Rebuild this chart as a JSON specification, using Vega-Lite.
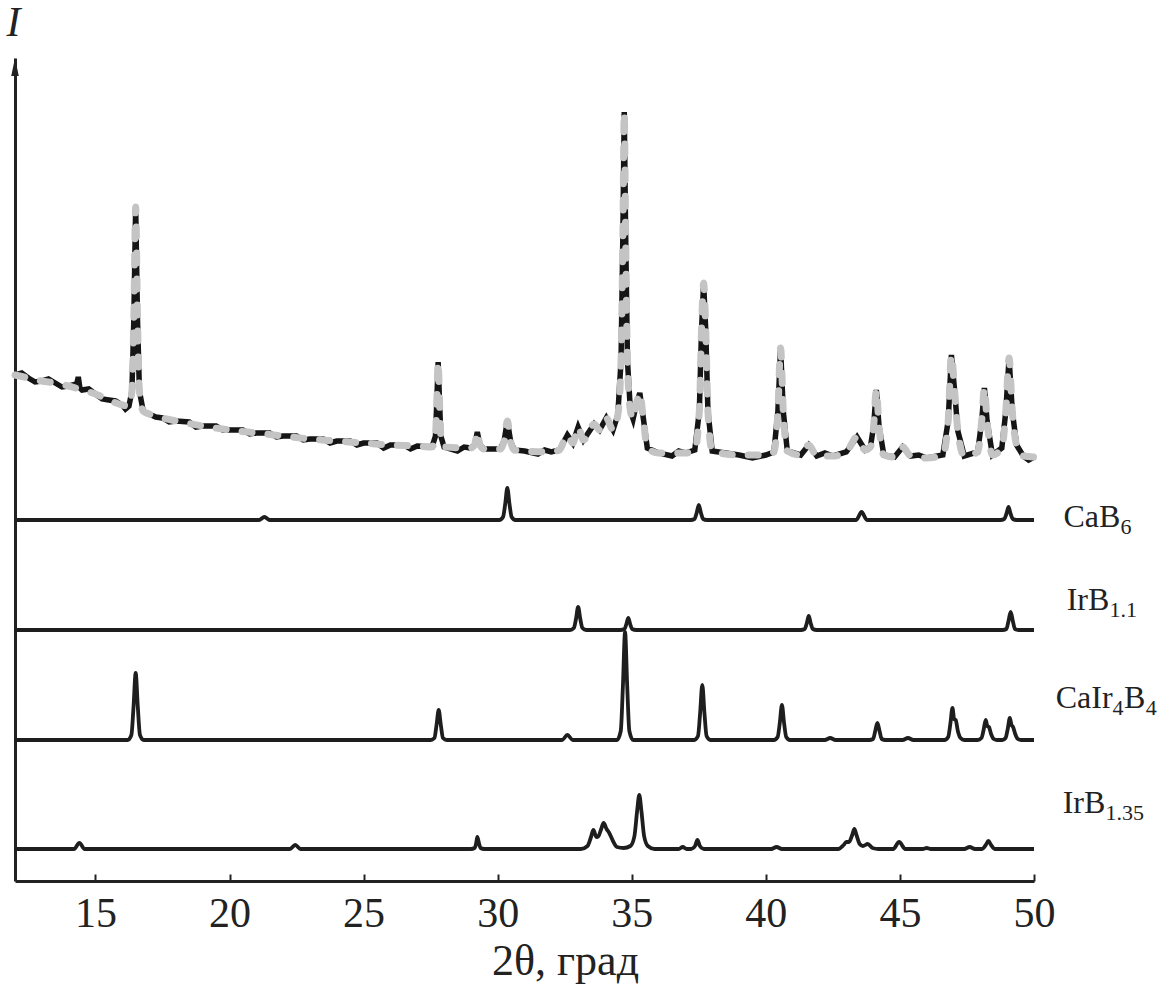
{
"$schema": "https://vega.github.io/schema/vega-lite/v6.json",
"width": 1019, "height": 823,
"autosize": {"type": "none"},
"padding": {"left": 15, "top": 58, "right": 133, "bottom": 103},
"background": "white",
"config": {"view": {"stroke": null}, "font": "Liberation Serif"},
"datasets": {
"refs": [
{"s":"CaB6","x":12,"y":361},{"s":"CaB6","x":21.1,"y":361},{"s":"CaB6","x":21.3,"y":364},{"s":"CaB6","x":21.5,"y":361},{"s":"CaB6","x":30.06,"y":361},{"s":"CaB6","x":30.2,"y":364},{"s":"CaB6","x":30.28,"y":377},{"s":"CaB6","x":30.36,"y":393},{"s":"CaB6","x":30.44,"y":377},{"s":"CaB6","x":30.52,"y":364},{"s":"CaB6","x":30.66,"y":361},{"s":"CaB6","x":37.2,"y":361},{"s":"CaB6","x":37.34,"y":362},{"s":"CaB6","x":37.42,"y":368},{"s":"CaB6","x":37.5,"y":376},{"s":"CaB6","x":37.58,"y":368},{"s":"CaB6","x":37.66,"y":362},{"s":"CaB6","x":37.8,"y":361},{"s":"CaB6","x":43.37,"y":361},{"s":"CaB6","x":43.57,"y":369},{"s":"CaB6","x":43.77,"y":361},{"s":"CaB6","x":48.75,"y":361},{"s":"CaB6","x":48.89,"y":362},{"s":"CaB6","x":48.97,"y":367},{"s":"CaB6","x":49.05,"y":374},{"s":"CaB6","x":49.13,"y":367},{"s":"CaB6","x":49.21,"y":362},{"s":"CaB6","x":49.35,"y":361},{"s":"CaB6","x":50,"y":361},
{"s":"IrB11","x":12,"y":251},{"s":"IrB11","x":32.7,"y":251},{"s":"IrB11","x":32.84,"y":253},{"s":"IrB11","x":32.92,"y":262},{"s":"IrB11","x":33.0,"y":274},{"s":"IrB11","x":33.08,"y":262},{"s":"IrB11","x":33.16,"y":253},{"s":"IrB11","x":33.3,"y":251},{"s":"IrB11","x":34.57,"y":251},{"s":"IrB11","x":34.73,"y":252},{"s":"IrB11","x":34.8,"y":257},{"s":"IrB11","x":34.87,"y":263},{"s":"IrB11","x":34.94,"y":257},{"s":"IrB11","x":35.01,"y":252},{"s":"IrB11","x":35.17,"y":251},{"s":"IrB11","x":41.3,"y":251},{"s":"IrB11","x":41.45,"y":252},{"s":"IrB11","x":41.53,"y":258},{"s":"IrB11","x":41.6,"y":265},{"s":"IrB11","x":41.67,"y":258},{"s":"IrB11","x":41.75,"y":252},{"s":"IrB11","x":41.9,"y":251},{"s":"IrB11","x":48.83,"y":251},{"s":"IrB11","x":48.97,"y":252},{"s":"IrB11","x":49.05,"y":260},{"s":"IrB11","x":49.13,"y":269},{"s":"IrB11","x":49.21,"y":260},{"s":"IrB11","x":49.29,"y":252},{"s":"IrB11","x":49.43,"y":251},{"s":"IrB11","x":50,"y":251},
{"s":"CaIr4B4","x":12,"y":141},{"s":"CaIr4B4","x":16.2,"y":141},{"s":"CaIr4B4","x":16.34,"y":146},{"s":"CaIr4B4","x":16.42,"y":174},{"s":"CaIr4B4","x":16.5,"y":208},{"s":"CaIr4B4","x":16.58,"y":174},{"s":"CaIr4B4","x":16.66,"y":146},{"s":"CaIr4B4","x":16.8,"y":141},{"s":"CaIr4B4","x":27.5,"y":141},{"s":"CaIr4B4","x":27.64,"y":143},{"s":"CaIr4B4","x":27.72,"y":156},{"s":"CaIr4B4","x":27.8,"y":171},{"s":"CaIr4B4","x":27.88,"y":156},{"s":"CaIr4B4","x":27.96,"y":143},{"s":"CaIr4B4","x":28.1,"y":141},{"s":"CaIr4B4","x":32.4,"y":141},{"s":"CaIr4B4","x":32.6,"y":146},{"s":"CaIr4B4","x":32.8,"y":141},{"s":"CaIr4B4","x":34.45,"y":141},{"s":"CaIr4B4","x":34.59,"y":150},{"s":"CaIr4B4","x":34.67,"y":195},{"s":"CaIr4B4","x":34.75,"y":249},{"s":"CaIr4B4","x":34.83,"y":195},{"s":"CaIr4B4","x":34.91,"y":150},{"s":"CaIr4B4","x":35.05,"y":141},{"s":"CaIr4B4","x":37.33,"y":141},{"s":"CaIr4B4","x":37.47,"y":145},{"s":"CaIr4B4","x":37.55,"y":168},{"s":"CaIr4B4","x":37.63,"y":196},{"s":"CaIr4B4","x":37.71,"y":168},{"s":"CaIr4B4","x":37.79,"y":145},{"s":"CaIr4B4","x":37.93,"y":141},{"s":"CaIr4B4","x":40.3,"y":141},{"s":"CaIr4B4","x":40.44,"y":144},{"s":"CaIr4B4","x":40.52,"y":158},{"s":"CaIr4B4","x":40.6,"y":176},{"s":"CaIr4B4","x":40.68,"y":158},{"s":"CaIr4B4","x":40.76,"y":144},{"s":"CaIr4B4","x":40.9,"y":141},{"s":"CaIr4B4","x":42.2,"y":141},{"s":"CaIr4B4","x":42.4,"y":143},{"s":"CaIr4B4","x":42.6,"y":141},{"s":"CaIr4B4","x":43.86,"y":141},{"s":"CaIr4B4","x":44.0,"y":142},{"s":"CaIr4B4","x":44.08,"y":150},{"s":"CaIr4B4","x":44.16,"y":158},{"s":"CaIr4B4","x":44.24,"y":150},{"s":"CaIr4B4","x":44.32,"y":142},{"s":"CaIr4B4","x":44.46,"y":141},{"s":"CaIr4B4","x":45.1,"y":141},{"s":"CaIr4B4","x":45.3,"y":143},{"s":"CaIr4B4","x":45.5,"y":141},{"s":"CaIr4B4","x":46.66,"y":141},{"s":"CaIr4B4","x":46.8,"y":144},{"s":"CaIr4B4","x":46.88,"y":157},{"s":"CaIr4B4","x":46.96,"y":173},{"s":"CaIr4B4","x":47.02,"y":162},{"s":"CaIr4B4","x":47.08,"y":161},{"s":"CaIr4B4","x":47.16,"y":150},{"s":"CaIr4B4","x":47.26,"y":143},{"s":"CaIr4B4","x":47.4,"y":141},{"s":"CaIr4B4","x":47.9,"y":141},{"s":"CaIr4B4","x":48.04,"y":143},{"s":"CaIr4B4","x":48.12,"y":151},{"s":"CaIr4B4","x":48.2,"y":161},{"s":"CaIr4B4","x":48.26,"y":155},{"s":"CaIr4B4","x":48.32,"y":154},{"s":"CaIr4B4","x":48.4,"y":147},{"s":"CaIr4B4","x":48.5,"y":142},{"s":"CaIr4B4","x":48.62,"y":141},{"s":"CaIr4B4","x":48.82,"y":141},{"s":"CaIr4B4","x":48.94,"y":143},{"s":"CaIr4B4","x":49.02,"y":152},{"s":"CaIr4B4","x":49.1,"y":163},{"s":"CaIr4B4","x":49.16,"y":156},{"s":"CaIr4B4","x":49.22,"y":154},{"s":"CaIr4B4","x":49.3,"y":147},{"s":"CaIr4B4","x":49.4,"y":142},{"s":"CaIr4B4","x":49.52,"y":141},{"s":"CaIr4B4","x":50,"y":141},
{"s":"IrB135","x":12,"y":32},{"s":"IrB135","x":14.2,"y":32},{"s":"IrB135","x":14.4,"y":38},{"s":"IrB135","x":14.6,"y":32},{"s":"IrB135","x":22.25,"y":32},{"s":"IrB135","x":22.45,"y":36},{"s":"IrB135","x":22.65,"y":32},{"s":"IrB135","x":29.0,"y":32},{"s":"IrB135","x":29.14,"y":33},{"s":"IrB135","x":29.2,"y":38},{"s":"IrB135","x":29.24,"y":44},{"s":"IrB135","x":29.3,"y":38},{"s":"IrB135","x":29.36,"y":33},{"s":"IrB135","x":29.5,"y":32},{"s":"IrB135","x":33.1,"y":32},{"s":"IrB135","x":33.35,"y":35},{"s":"IrB135","x":33.48,"y":44},{"s":"IrB135","x":33.57,"y":51},{"s":"IrB135","x":33.68,"y":44},{"s":"IrB135","x":33.76,"y":45},{"s":"IrB135","x":33.86,"y":52},{"s":"IrB135","x":33.95,"y":58},{"s":"IrB135","x":34.06,"y":52},{"s":"IrB135","x":34.16,"y":48},{"s":"IrB135","x":34.3,"y":40},{"s":"IrB135","x":34.45,"y":34},{"s":"IrB135","x":34.7,"y":33},{"s":"IrB135","x":34.95,"y":35},{"s":"IrB135","x":35.1,"y":45},{"s":"IrB135","x":35.2,"y":70},{"s":"IrB135","x":35.28,"y":86},{"s":"IrB135","x":35.36,"y":70},{"s":"IrB135","x":35.46,"y":45},{"s":"IrB135","x":35.6,"y":35},{"s":"IrB135","x":35.85,"y":32},{"s":"IrB135","x":36.75,"y":32},{"s":"IrB135","x":36.9,"y":34},{"s":"IrB135","x":37.05,"y":32},{"s":"IrB135","x":37.2,"y":32},{"s":"IrB135","x":37.36,"y":35},{"s":"IrB135","x":37.45,"y":41},{"s":"IrB135","x":37.54,"y":35},{"s":"IrB135","x":37.7,"y":32},{"s":"IrB135","x":40.2,"y":32},{"s":"IrB135","x":40.4,"y":34},{"s":"IrB135","x":40.6,"y":32},{"s":"IrB135","x":42.7,"y":32},{"s":"IrB135","x":42.9,"y":36},{"s":"IrB135","x":43.0,"y":39},{"s":"IrB135","x":43.1,"y":39},{"s":"IrB135","x":43.22,"y":46},{"s":"IrB135","x":43.3,"y":52},{"s":"IrB135","x":43.38,"y":46},{"s":"IrB135","x":43.5,"y":37},{"s":"IrB135","x":43.62,"y":35},{"s":"IrB135","x":43.8,"y":37},{"s":"IrB135","x":43.98,"y":33},{"s":"IrB135","x":44.2,"y":32},{"s":"IrB135","x":44.75,"y":32},{"s":"IrB135","x":44.97,"y":39},{"s":"IrB135","x":45.2,"y":32},{"s":"IrB135","x":45.85,"y":32},{"s":"IrB135","x":46.0,"y":33},{"s":"IrB135","x":46.15,"y":32},{"s":"IrB135","x":47.4,"y":32},{"s":"IrB135","x":47.6,"y":34},{"s":"IrB135","x":47.8,"y":32},{"s":"IrB135","x":48.05,"y":32},{"s":"IrB135","x":48.2,"y":36},{"s":"IrB135","x":48.3,"y":40},{"s":"IrB135","x":48.4,"y":36},{"s":"IrB135","x":48.55,"y":32},{"s":"IrB135","x":50,"y":32}
],
"exp": [
{"k":"f","x":12.0,"y":506},{"k":"f","x":12.5,"y":503},{"k":"f","x":13.0,"y":500},{"k":"f","x":13.5,"y":498},{"k":"f","x":14.0,"y":495},{"k":"f","x":14.5,"y":491},{"k":"f","x":15.0,"y":487},{"k":"f","x":15.5,"y":481},{"k":"f","x":16.0,"y":476},{"k":"f","x":16.25,"y":475},{"k":"f","x":16.36,"y":490},{"k":"f","x":16.43,"y":560},{"k":"f","x":16.5,"y":674},{"k":"f","x":16.57,"y":560},{"k":"f","x":16.64,"y":490},{"k":"f","x":16.78,"y":470},{"k":"f","x":17.0,"y":467},{"k":"f","x":17.5,"y":463},{"k":"f","x":18.0,"y":460},{"k":"f","x":19.0,"y":455},{"k":"f","x":20.0,"y":451},{"k":"f","x":21.0,"y":448},{"k":"f","x":22.0,"y":445},{"k":"f","x":23.0,"y":442},{"k":"f","x":24.0,"y":440},{"k":"f","x":25.0,"y":438},{"k":"f","x":26.0,"y":436},{"k":"f","x":27.0,"y":435},{"k":"f","x":27.55,"y":434},{"k":"f","x":27.68,"y":445},{"k":"f","x":27.73,"y":480},{"k":"f","x":27.78,"y":519},{"k":"f","x":27.83,"y":480},{"k":"f","x":27.88,"y":445},{"k":"f","x":28.0,"y":434},{"k":"f","x":29.0,"y":433},{"k":"f","x":29.14,"y":436},{"k":"f","x":29.24,"y":449},{"k":"f","x":29.34,"y":436},{"k":"f","x":29.5,"y":432},{"k":"f","x":30.1,"y":432},{"k":"f","x":30.24,"y":440},{"k":"f","x":30.36,"y":460},{"k":"f","x":30.48,"y":440},{"k":"f","x":30.62,"y":431},{"k":"f","x":31.0,"y":430},{"k":"f","x":32.0,"y":429},{"k":"f","x":32.3,"y":431},{"k":"f","x":32.6,"y":446},{"k":"f","x":32.8,"y":438},{"k":"f","x":33.0,"y":454},{"k":"f","x":33.2,"y":441},{"k":"f","x":33.6,"y":457},{"k":"f","x":33.8,"y":451},{"k":"f","x":34.05,"y":463},{"k":"f","x":34.3,"y":451},{"k":"f","x":34.48,"y":466},{"k":"f","x":34.6,"y":520},{"k":"f","x":34.67,"y":650},{"k":"f","x":34.72,"y":769},{"k":"f","x":34.77,"y":650},{"k":"f","x":34.84,"y":520},{"k":"f","x":34.95,"y":470},{"k":"f","x":35.05,"y":462},{"k":"f","x":35.18,"y":478},{"k":"f","x":35.3,"y":488},{"k":"f","x":35.42,"y":465},{"k":"f","x":35.58,"y":433},{"k":"f","x":36.0,"y":428},{"k":"f","x":37.0,"y":428},{"k":"f","x":37.35,"y":431},{"k":"f","x":37.52,"y":470},{"k":"f","x":37.6,"y":550},{"k":"f","x":37.68,"y":598},{"k":"f","x":37.76,"y":550},{"k":"f","x":37.84,"y":470},{"k":"f","x":38.0,"y":430},{"k":"f","x":39.0,"y":426},{"k":"f","x":40.0,"y":426},{"k":"f","x":40.3,"y":429},{"k":"f","x":40.45,"y":470},{"k":"f","x":40.55,"y":533},{"k":"f","x":40.65,"y":470},{"k":"f","x":40.8,"y":430},{"k":"f","x":41.3,"y":426},{"k":"f","x":41.6,"y":436},{"k":"f","x":41.9,"y":425},{"k":"f","x":42.5,"y":425},{"k":"f","x":43.0,"y":429},{"k":"f","x":43.4,"y":444},{"k":"f","x":43.7,"y":431},{"k":"f","x":43.9,"y":434},{"k":"f","x":44.02,"y":455},{"k":"f","x":44.12,"y":491},{"k":"f","x":44.22,"y":455},{"k":"f","x":44.4,"y":426},{"k":"f","x":44.8,"y":424},{"k":"f","x":45.1,"y":434},{"k":"f","x":45.4,"y":425},{"k":"f","x":46.0,"y":423},{"k":"f","x":46.6,"y":426},{"k":"f","x":46.8,"y":460},{"k":"f","x":46.92,"y":526},{"k":"f","x":47.04,"y":490},{"k":"f","x":47.16,"y":450},{"k":"f","x":47.4,"y":425},{"k":"f","x":47.9,"y":429},{"k":"f","x":48.05,"y":460},{"k":"f","x":48.15,"y":493},{"k":"f","x":48.25,"y":460},{"k":"f","x":48.45,"y":426},{"k":"f","x":48.8,"y":433},{"k":"f","x":48.95,"y":470},{"k":"f","x":49.07,"y":523},{"k":"f","x":49.19,"y":470},{"k":"f","x":49.35,"y":436},{"k":"f","x":49.6,"y":425},{"k":"f","x":50.0,"y":424},
{"k":"o","x":12.25,"y":508},{"k":"o","x":12.75,"y":499},{"k":"o","x":13.25,"y":502},{"k":"o","x":13.75,"y":494},{"k":"o","x":14.3,"y":497},{"k":"o","x":14.36,"y":504},{"k":"o","x":14.42,"y":493},{"k":"o","x":14.75,"y":492},{"k":"o","x":15.25,"y":482},{"k":"o","x":15.75,"y":480},{"k":"o","x":16.12,"y":472},{"k":"o","x":17.25,"y":464},{"k":"o","x":17.75,"y":459},{"k":"o","x":18.5,"y":459},{"k":"o","x":18.75,"y":454},{"k":"o","x":19.5,"y":455},{"k":"o","x":19.75,"y":451},{"k":"o","x":20.5,"y":451},{"k":"o","x":20.75,"y":447},{"k":"o","x":21.5,"y":448},{"k":"o","x":21.75,"y":444},{"k":"o","x":22.5,"y":445},{"k":"o","x":22.75,"y":441},{"k":"o","x":23.5,"y":442},{"k":"o","x":23.75,"y":438},{"k":"o","x":24.5,"y":440},{"k":"o","x":24.75,"y":436},{"k":"o","x":25.5,"y":438},{"k":"o","x":25.75,"y":433},{"k":"o","x":26.5,"y":436},{"k":"o","x":26.75,"y":432},{"k":"o","x":28.5,"y":430},{"k":"o","x":28.75,"y":434},{"k":"o","x":31.5,"y":427},{"k":"o","x":31.75,"y":431},{"k":"o","x":36.5,"y":425},{"k":"o","x":36.75,"y":430},{"k":"o","x":38.5,"y":428},{"k":"o","x":39.5,"y":423},{"k":"o","x":42.2,"y":428},{"k":"o","x":45.7,"y":426},{"k":"o","x":49.8,"y":421}
],
"labels": [
{"p":"m","t":"CaB","x":51.1,"y":354},
{"p":"s","t":"6","x":53.23,"y":354},
{"p":"m","t":"IrB","x":51.22,"y":271},
{"p":"s","t":"1.1","x":52.82,"y":271},
{"p":"m","t":"CaIr","x":50.81,"y":173},
{"p":"s","t":"4","x":52.93,"y":173},
{"p":"m","t":"B","x":53.36,"y":173},
{"p":"s","t":"4","x":54.17,"y":173},
{"p":"m","t":"IrB","x":51.07,"y":68},
{"p":"s","t":"1.35","x":52.67,"y":68}
]
},
"encoding": {
"x": {"field":"x","type":"quantitative","scale":{"domain":[12,50],"nice":false,"zero":false},
 "axis": {"values":[15,20,25,30,35,40,45,50],"grid":false,"tickSize":-7,"tickWidth":2,"tickColor":"#222","domainColor":"#222","domainWidth":3,"labelFont":"Liberation Serif","labelFontSize":42,"labelColor":"#222","labelPadding":19,"labelFlush":false,"title":"2θ, град","titleFont":"Liberation Serif","titleFontSize":44,"titleFontWeight":"normal","titleColor":"#222","titleX":550,"titleY":93,"titleAlign":"center","titleBaseline":"alphabetic"}},
"y": {"field":"y","type":"quantitative","scale":{"domain":[0,823],"nice":false,"zero":false},
 "axis": {"grid":false,"ticks":false,"labels":false,"domainColor":"#222","domainWidth":3,"title":"I","titleFont":"Liberation Serif","titleFontStyle":"italic","titleFontWeight":"normal","titleFontSize":42,"titleColor":"#222","titleAngle":0,"titleX":-2,"titleY":-56,"titleAlign":"center","titleBaseline":"top"}}
},
"layer": [
{"data":{"name":"refs"},"mark":{"type":"line","color":"#1e1e1e","strokeWidth":3.8,"interpolate":"monotone"},"encoding":{"detail":{"field":"s"}}},
{"data":{"name":"exp"},"mark":{"type":"line","color":"#151515","strokeWidth":5.5}},
{"data":{"name":"exp"},"transform":[{"filter":"datum.k != 'o'"}],"mark":{"type":"line","color":"#c4c4c4","strokeWidth":7,"strokeDash":[10,16],"strokeCap":"round","interpolate":"monotone"}},
{"data":{"name":"labels"},"transform":[{"filter":"datum.p == 'm'"}],"mark":{"type":"text","align":"left","baseline":"alphabetic","fontSize":32,"font":"Liberation Serif","color":"#222"},"encoding":{"text":{"field":"t"}}},
{"data":{"name":"labels"},"transform":[{"filter":"datum.p == 's'"}],"mark":{"type":"text","align":"left","baseline":"alphabetic","fontSize":22,"dy":7,"font":"Liberation Serif","color":"#222"},"encoding":{"text":{"field":"t"}}},
{"data":{"values":[{"x":12,"y":814}]},"mark":{"type":"point","shape":"M0,-1L0.42,1L-0.42,1Z","filled":true,"color":"#222","size":324,"opacity":1}}
]
}
